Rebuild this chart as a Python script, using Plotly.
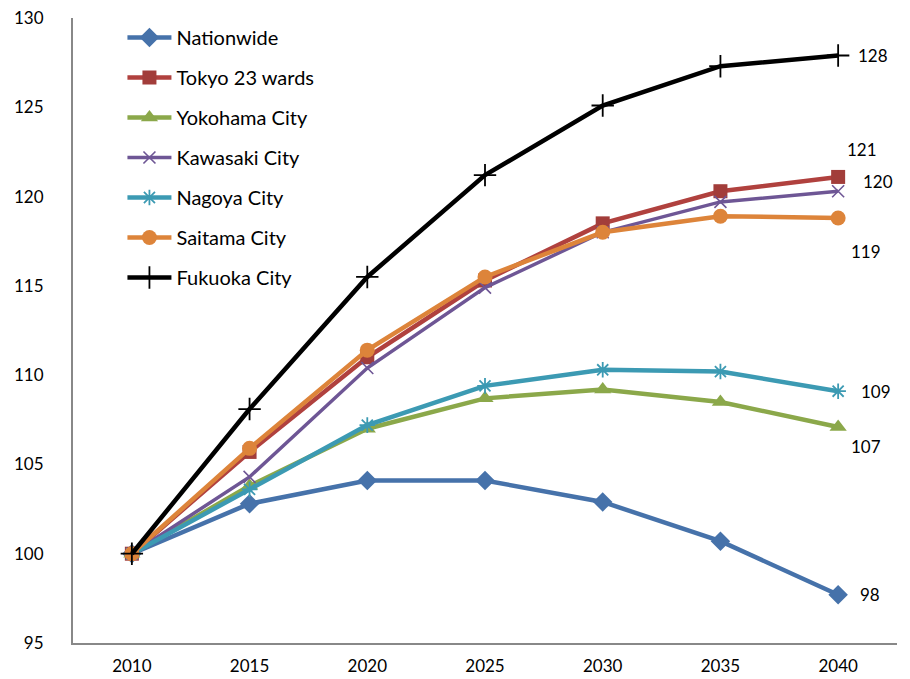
import plotly.graph_objects as go

years = [2010, 2015, 2020, 2025, 2030, 2035, 2040]

nationwide = [100, 102.8, 104.1, 104.1, 102.9, 100.7, 97.7]
tokyo_23 = [100, 105.7, 111.0, 115.3, 118.5, 120.3, 121.1]
yokohama = [100, 103.8, 107.0, 108.7, 109.2, 108.5, 107.1]
kawasaki = [100, 104.3, 110.4, 114.9, 118.0, 119.7, 120.3]
nagoya = [100, 103.6, 107.2, 109.4, 110.3, 110.2, 109.1]
saitama = [100, 105.9, 111.4, 115.5, 118.0, 118.9, 118.8]
fukuoka = [100, 108.1, 115.5, 121.2, 125.1, 127.3, 127.9]

y_ticks = [95, 100, 105, 110, 115, 120, 125, 130]

FONT = "Lato, 'Open Sans', sans-serif"

series = [
    # name, values, line colour, line width, marker symbol, marker size, marker colour,
    # marker outline width, end-label offset (px)
    ("Nationwide", nationwide, "#4672AA", 4.5, "diamond", 15, "#4672AA", 0, (32, 0)),
    ("Tokyo 23 wards", tokyo_23, "#B0413E", 4.5, "square", 14, "#A23D3A", 0, (24, 27)),
    ("Yokohama City", yokohama, "#8BA84A", 4.5, "triangle-up", 15, "#8BA84A", 0, (28, -20)),
    ("Kawasaki City", kawasaki, "#6E5695", 3.5, "x-thin-open", 12, "#6E5695", 1.6, (40, 10)),
    ("Nagoya City", nagoya, "#3C9AB3", 4.5, "asterisk-open", 13, "#3C9AB3", 1.8, (38, 0)),
    ("Saitama City", saitama, "#DD843A", 4.5, "circle", 15, "#DD843A", 0, (28, -33)),
    ("Fukuoka City", fukuoka, "#000000", 4.5, "cross-thin-open", 16, "#000000", 1.8, (35, 0)),
]

fig = go.Figure()
for i, (name, vals, color, lw, sym, msize, mcol, mlw, _) in enumerate(series):
    fig.add_trace(go.Scatter(
        x=years, y=vals, name=name, mode="lines+markers",
        legendgroup=f"g{i}",
        line=dict(color=color, width=lw),
        marker=dict(symbol=sym, size=msize, color=mcol,
                    line=dict(color=mcol, width=mlw)),
        hoverinfo="skip",
    ))

# value labels at the last year
for name, vals, color, lw, sym, msize, mcol, mlw, (dx, dy) in series:
    fig.add_annotation(
        x=years[-1], y=vals[-1], text=f"{round(vals[-1])}",
        showarrow=False, xshift=dx, yshift=dy,
        font=dict(family=FONT, size=17, color="#000000"),
    )

fig.update_layout(
    width=910, height=679,
    margin=dict(l=73, r=13, t=18, b=36),
    paper_bgcolor="white", plot_bgcolor="white",
    font=dict(family=FONT, size=17, color="#000000"),
    showlegend=True,
    legend=dict(
        x=0.06, y=1.0, xanchor="left", yanchor="top",
        bgcolor="rgba(0,0,0,0)", tracegroupgap=11,
        font=dict(family=FONT, size=20, color="#000000"),
        itemwidth=44,
    ),
)
fig.update_xaxes(
    range=[2007.5, 2042.5], tickvals=years, ticktext=[str(y) for y in years],
    showgrid=False, zeroline=False, showline=True, linecolor="#888888",
    linewidth=2, ticks="", ticklabelstandoff=7, automargin=False,
    tickfont=dict(family=FONT, size=17),
)
fig.update_yaxes(
    range=[95, 130], tickvals=y_ticks, showgrid=False, zeroline=False,
    showline=True, linecolor="#888888", linewidth=2, ticks="",
    ticklabelstandoff=24, automargin=False, tickfont=dict(family=FONT, size=17),
)

fig.write_html("out.html")
